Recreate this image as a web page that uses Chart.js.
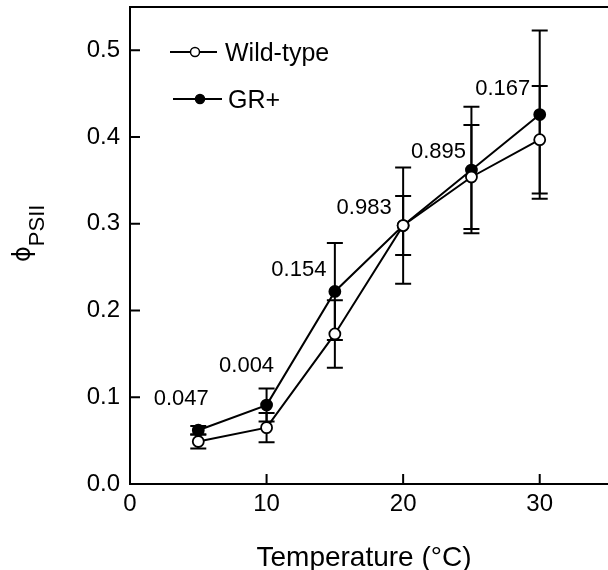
<!DOCTYPE html>
<html>
<head>
<meta charset="utf-8">
<script src="https://cdn.jsdelivr.net/npm/chart.js@4"></script>
<style>
  html, body { margin: 0; padding: 0; background: #fff; overflow: hidden; }
</style>
</head>
<body>
<canvas id="myChart" width="608" height="570"></canvas>
<script>
// data
const temps = [5, 10, 15, 20, 25, 30];
const wildType = [0.049, 0.065, 0.173, 0.298, 0.354, 0.397];
const wildTypeErr = [0.008, 0.017, 0.039, 0.067, 0.060, 0.062];
const grPlus = [0.062, 0.091, 0.222, 0.298, 0.362, 0.426];
const grPlusErr = [0.005, 0.019, 0.056, 0.034, 0.073, 0.097];
const pValues = ['0.047', '0.004', '0.154', '0.983', '0.895', '0.167'];
const xTicks = [0, 10, 20, 30];
const yTicks = [0, 0.1, 0.2, 0.3, 0.4, 0.5];

const FONT = '"Liberation Sans", Arial, sans-serif';

function points(xs, ys) {
  return xs.map((x, i) => ({x: x, y: ys[i]}));
}

// error bars, drawn under the markers
const errorBars = {
  id: 'errorBars',
  beforeDatasetsDraw(chart) {
    const {ctx, scales: {x, y}} = chart;
    const sets = [[wildType, wildTypeErr], [grPlus, grPlusErr]];
    ctx.save();
    ctx.strokeStyle = '#000';
    ctx.lineWidth = 2;
    sets.forEach(([vals, errs]) => {
      temps.forEach((t, i) => {
        const px = x.getPixelForValue(t);
        const top = y.getPixelForValue(vals[i] + errs[i]);
        const bot = y.getPixelForValue(vals[i] - errs[i]);
        ctx.beginPath();
        ctx.moveTo(px, top); ctx.lineTo(px, bot);
        ctx.moveTo(px - 8, top); ctx.lineTo(px + 8, top);
        ctx.moveTo(px - 8, bot); ctx.lineTo(px + 8, bot);
        ctx.stroke();
      });
    });
    ctx.restore();
  }
};

// inward ticks, top frame line, titles, legend, p values
const extras = {
  id: 'extras',
  afterDraw(chart) {
    const {ctx, chartArea: a, scales: {x, y}} = chart;
    ctx.save();
    ctx.strokeStyle = '#000';
    ctx.fillStyle = '#000';
    ctx.lineWidth = 2;

    ctx.beginPath();
    ctx.moveTo(a.left - 1, a.top); ctx.lineTo(a.right, a.top);
    xTicks.forEach(t => {
      const px = x.getPixelForValue(t);
      ctx.moveTo(px, a.bottom); ctx.lineTo(px, a.bottom - 10);
    });
    yTicks.forEach(t => {
      const py = y.getPixelForValue(t);
      ctx.moveTo(a.left, py); ctx.lineTo(a.left + 10, py);
    });
    ctx.stroke();

    // x title
    ctx.font = '28px ' + FONT;
    ctx.textAlign = 'center';
    ctx.textBaseline = 'alphabetic';
    ctx.fillText('Temperature (\u00B0C)', 364, 566);

    // y title: phi with subscript PSII
    ctx.save();
    ctx.translate(30, 262);
    ctx.rotate(-Math.PI / 2);
    ctx.textAlign = 'left';
    ctx.font = '24px "DejaVu Sans", sans-serif';
    ctx.fillText('\u03D5', 0, 0);
    const w = ctx.measureText('\u03D5').width;
    ctx.font = '22px ' + FONT;
    ctx.fillText('PSII', w, 14);
    ctx.restore();

    // p values, placed relative to GR+ points
    const offs = [[-17, 33], [-20, 41], [-36, 23], [-39, 20], [-33, 20], [-37, 28]];
    ctx.font = '22px ' + FONT;
    ctx.textAlign = 'center';
    pValues.forEach((p, i) => {
      const px = x.getPixelForValue(temps[i]) + offs[i][0];
      const py = y.getPixelForValue(grPlus[i]) - offs[i][1] + 8;
      ctx.fillText(p, px, py);
    });

    // legend
    const rows = [
      {label: 'Wild-type', fill: '#fff', x0: 170, x1: 217, cx: 195, cy: 52, tx: 225},
      {label: 'GR+', fill: '#000', x0: 173, x1: 222, cx: 200, cy: 99, tx: 228}
    ];
    ctx.textAlign = 'left';
    ctx.font = '25px ' + FONT;
    rows.forEach(r => {
      ctx.lineWidth = 2;
      ctx.beginPath();
      ctx.moveTo(r.x0, r.cy); ctx.lineTo(r.x1, r.cy);
      ctx.stroke();
      ctx.beginPath();
      ctx.arc(r.cx, r.cy, 4.5, 0, Math.PI * 2);
      ctx.fillStyle = r.fill;
      ctx.fill();
      ctx.lineWidth = 1.5;
      ctx.stroke();
      ctx.fillStyle = '#000';
      ctx.fillText(r.label, r.tx, r.cy + 8.5);
    });
    ctx.restore();
  }
};

function noPad(s) {
  s.paddingLeft = 0; s.paddingRight = 0; s.paddingTop = 0; s.paddingBottom = 0;
}

new Chart(document.getElementById('myChart'), {
  type: 'line',
  data: {
    datasets: [{
      label: 'Wild-type',
      data: points(temps, wildType),
      borderColor: '#000',
      borderWidth: 2,
      pointRadius: 5.5,
      pointBorderWidth: 1.8,
      pointBackgroundColor: '#fff',
      pointBorderColor: '#000',
      tension: 0
    }, {
      label: 'GR+',
      data: points(temps, grPlus),
      borderColor: '#000',
      borderWidth: 2,
      pointRadius: 5.5,
      pointBorderWidth: 1.8,
      pointBackgroundColor: '#000',
      pointBorderColor: '#000',
      tension: 0
    }]
  },
  options: {
    responsive: false,
    animation: false,
    layout: {autoPadding: false, padding: {top: 7, left: 0, right: 0, bottom: 0}},
    plugins: {legend: {display: false}, tooltip: {enabled: false}},
    scales: {
      x: {
        type: 'linear',
        min: 0, max: 35,
        grid: {drawOnChartArea: false, drawTicks: false},
        border: {color: '#000', width: 2},
        ticks: {stepSize: 10, padding: 6, color: '#000', font: {family: FONT, size: 24}},
        afterBuildTicks: s => { s.ticks = s.ticks.filter(t => xTicks.includes(t.value)); },
        afterFit: s => { s.height = 86; noPad(s); }
      },
      y: {
        min: 0, max: 0.55,
        grid: {drawOnChartArea: false, drawTicks: false},
        border: {color: '#000', width: 2},
        ticks: {stepSize: 0.1, padding: 10, color: '#000', font: {family: FONT, size: 24},
          callback: v => v.toFixed(1)},
        afterBuildTicks: s => { s.ticks = s.ticks.filter(t => Math.abs(t.value * 10 - Math.round(t.value * 10)) < 1e-6); },
        afterFit: s => { s.width = 130; noPad(s); }
      }
    }
  },
  plugins: [errorBars, extras]
});
</script>
</body>
</html>
